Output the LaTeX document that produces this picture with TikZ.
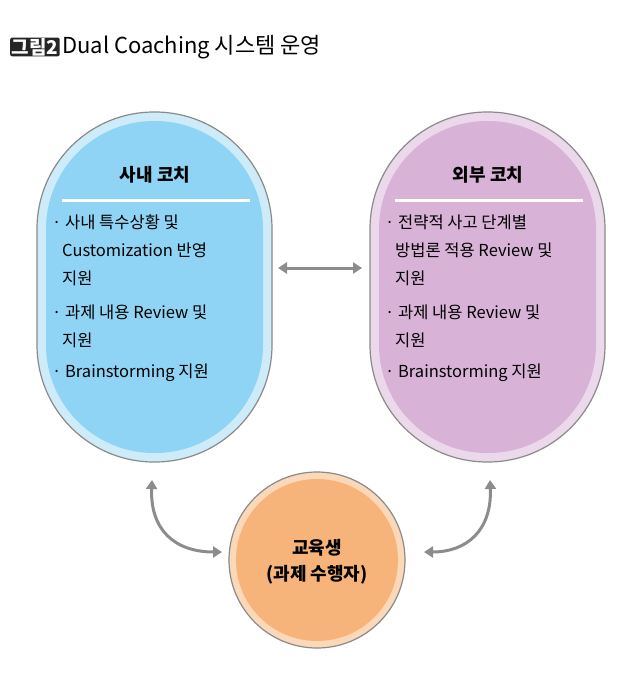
\documentclass[tikz,border=0pt]{standalone}
\usepackage{fontspec}
\setmainfont{Noto Sans CJK KR}
\usetikzlibrary{arrows.meta}
\definecolor{bfill}{HTML}{8FD4F4}\definecolor{bband}{HTML}{CDEBF8}
\definecolor{pfill}{HTML}{D8B2D7}\definecolor{pband}{HTML}{ECD8EB}
\definecolor{ofill}{HTML}{F7B47A}\definecolor{oband}{HTML}{FBD9B8}
\definecolor{edge}{HTML}{8A8A8A}\definecolor{arr}{HTML}{8C8C8C}
\tikzset{
 capsule/.style={draw=edge,line width=1.2pt,rounded corners=117pt,minimum width=235pt,minimum height=350pt,inner sep=0pt},
 txt/.style={anchor=west,font=\fontsize{16.5pt}{18pt}\selectfont,inner sep=0pt},
 hdr/.style={font=\bfseries\fontsize{18pt}{20pt}\selectfont,inner sep=0pt},
 gar/.style={draw=arr,line width=3pt,{Triangle[length=9pt,width=11pt]}-{Triangle[length=9pt,width=11pt]}}
}
\begin{document}
\begin{tikzpicture}[x=1pt,y=-1pt]
\useasboundingbox[fill=white] (0,0) rectangle (640,682);
% title
\node[fill=black!85,rounded corners=2pt,text=white,font=\bfseries\fontsize{19pt}{21pt}\selectfont,inner xsep=1.5pt,inner ysep=0.5pt,anchor=west] (tag) at (10,47) {그림2};
\node[anchor=west,font=\fontsize{22pt}{24pt}\selectfont,inner sep=0pt,xshift=2pt] (title) at (tag.east) {Dual Coaching 시스템 운영};
% left capsule
\node[capsule,fill=bband] (L) at (154.5,287) {};
\node[rounded corners=108pt,minimum width=217pt,minimum height=332pt,fill=bfill,inner sep=0pt] (Li) at (154.5,287) {};
\node[hdr] (Lh) at (155,175) {사내 코치};
\draw[white,line width=3pt] (62,200) -- (250,200);
\node[txt] (l1) at (52,222) {· 사내 특수상황 및};
\node[txt] (l2) at (62,250) {Customization 반영};
\node[txt] (l3) at (62,278) {지원};
\node[txt] (l4) at (52,312) {· 과제 내용 Review 및};
\node[txt] (l5) at (62,340) {지원};
\node[txt] (l6) at (52,373) {· Brainstorming 지원};
% right capsule
\node[capsule,fill=pband] (R) at (487.5,287) {};
\node[rounded corners=108pt,minimum width=217pt,minimum height=332pt,fill=pfill,inner sep=0pt] (Ri) at (487.5,287) {};
\node[hdr] (Rh) at (488,175) {외부 코치};
\draw[white,line width=3pt] (395,200) -- (583,200);
\node[txt] (r1) at (385,222) {· 전략적 사고 단계별};
\node[txt] (r2) at (395,250) {방법론 적용 Review 및};
\node[txt] (r3) at (395,278) {지원};
\node[txt] (r4) at (385,312) {· 과제 내용 Review 및};
\node[txt] (r5) at (395,340) {지원};
\node[txt] (r6) at (385,373) {· Brainstorming 지원};
% circle
\node[circle,draw=edge,line width=1.2pt,fill=oband,minimum size=176pt,inner sep=0pt] (C) at (317,560) {};
\node[circle,fill=ofill,minimum size=162pt,inner sep=0pt] (Ci) at (317,560) {};
\node[font=\bfseries\fontsize{18pt}{26pt}\selectfont,align=center] (Ct) at (317,562) {교육생\\(과제 수행자)};
% arrows
\coordinate (h1) at (278,268); \coordinate (h2) at (362,268);
\draw[gar] (h1) -- (h2);
\coordinate (a1) at (152,480); \coordinate (a2) at (222,552);
\draw[gar] (a1) .. controls (150,530) and (175,552) .. (a2);
\coordinate (b1) at (490,480); \coordinate (b2) at (424,552);
\draw[gar] (b1) .. controls (492,530) and (467,552) .. (b2);
\end{tikzpicture}
\end{document}
